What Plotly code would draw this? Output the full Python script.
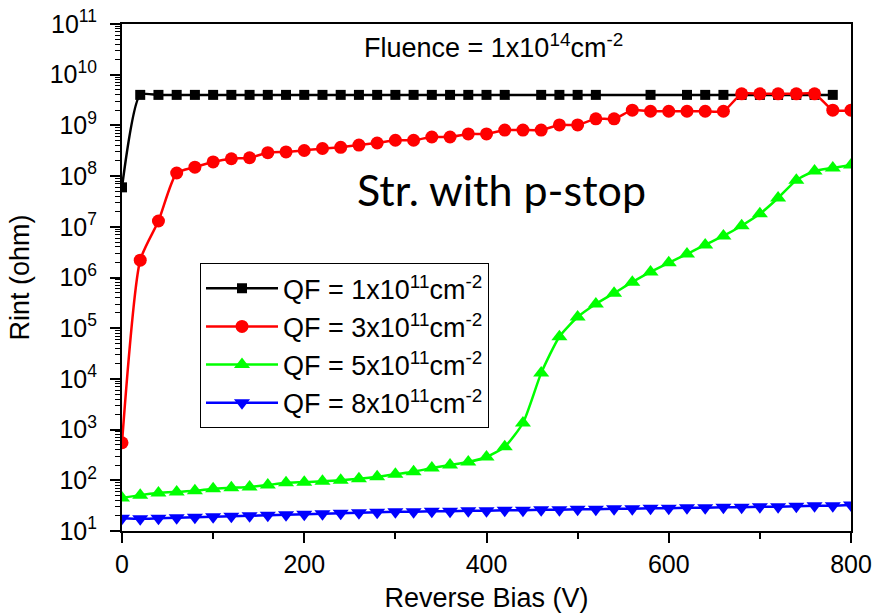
import plotly.graph_objects as go

# Reverse bias steps (V)
bias = [0, 20, 40, 60, 80, 100, 120, 140, 160, 180, 200, 220, 240, 260, 280,
        300, 320, 340, 360, 380, 400, 420, 440, 460, 480, 500, 520, 540, 560,
        580, 600, 620, 640, 660, 680, 700, 720, 740, 760, 780, 800]

# Interstrip resistance (ohm) for each oxide charge density
rint_qf1 = [6.0e7, 4.0e9, 4.0e9, 4.0e9, 4.0e9, 4.0e9, 4.0e9, 4.0e9, 4.0e9, 4.0e9,
            4.0e9, 4.0e9, 4.0e9, 4.0e9, 4.0e9, 4.0e9, 4.0e9, 4.0e9, 4.0e9, 4.0e9,
            4.0e9, 4.0e9, None, 4.0e9, 4.0e9, 4.0e9, 4.0e9, None, None, 4.0e9,
            None, 4.0e9, 4.0e9, 4.0e9, 4.0e9, 4.0e9, 4.0e9, 4.0e9, 4.0e9, 4.0e9,
            None]
rint_qf3 = [5.5e2, 2.2e6, 1.3e7, 1.15e8, 1.5e8, 1.9e8, 2.2e8, 2.3e8, 2.9e8, 3.0e8,
            3.2e8, 3.5e8, 3.7e8, 4.1e8, 4.5e8, 5.1e8, 5.1e8, 5.9e8, 5.9e8, 6.8e8,
            6.8e8, 8.1e8, 8.1e8, 8.1e8, 1.02e9, 1.02e9, 1.35e9, 1.35e9, 2.0e9, 1.9e9,
            1.9e9, 1.9e9, 1.9e9, 1.9e9, 4.2e9, 4.2e9, 4.2e9, 4.2e9, 4.2e9, 2.0e9,
            2.0e9]
rint_qf5 = [45, 51, 56, 59, 62, 68, 71, 74, 81, 89,
            92, 96, 100, 107, 117, 132, 148, 174, 200, 229,
            288, 457, 1.35e3, 1.3e4, 6.8e4, 1.66e5, 3.0e5, 4.9e5, 8.1e5, 1.29e6,
            1.95e6, 2.9e6, 4.4e6, 6.6e6, 1.05e7, 1.8e7, 3.7e7, 8.3e7, 1.26e8, 1.45e8,
            1.66e8]
rint_qf8 = [17.8, 17.4, 17.8, 18.2, 18.6, 19.1, 19.5, 20.0, 20.4, 20.9,
            21.4, 21.9, 22.4, 22.9, 23.4, 24.0, 24.0, 24.5, 24.5, 25.1,
            25.1, 25.7, 25.7, 26.3, 26.3, 26.9, 26.9, 27.5, 27.5, 28.2,
            28.2, 28.8, 28.8, 29.5, 29.5, 30.2, 30.2, 30.9, 31.6, 31.6,
            32.4]

series_names = ["QF = 1x10<sup>11</sup>cm<sup>-2</sup>",
                "QF = 3x10<sup>11</sup>cm<sup>-2</sup>",
                "QF = 5x10<sup>11</sup>cm<sup>-2</sup>",
                "QF = 8x10<sup>11</sup>cm<sup>-2</sup>"]
series_values = [rint_qf1, rint_qf3, rint_qf5, rint_qf8]
series_colors = ["#000000", "#FF0000", "#00FF00", "#0000FF"]
series_symbols = ["square", "circle", "triangle-up", "triangle-down"]
series_sizes = [10, 13, 14, 14]

y_exponents = [1, 2, 3, 4, 5, 6, 7, 8, 9, 10, 11]
y_tickvals = [10 ** e for e in y_exponents]
y_ticktext = ["10<sup>%d</sup>" % e for e in y_exponents]

FONT = "Arial, Liberation Sans, sans-serif"

fig = go.Figure()
for name, vals, col, sym, sz in zip(series_names, series_values, series_colors,
                                    series_symbols, series_sizes):
    fig.add_trace(go.Scatter(
        x=bias, y=vals, name=name, mode="lines+markers",
        connectgaps=True,
        line=dict(color=col, width=2.5, shape="spline", smoothing=0.6),
        marker=dict(color=col, symbol=sym, size=sz, line=dict(width=0)),
    ))

fig.update_layout(
    width=874, height=613,
    margin=dict(l=122, r=23, t=24, b=82, autoexpand=False),
    paper_bgcolor="white", plot_bgcolor="white",
    font=dict(family=FONT, color="black", size=22),
    showlegend=True,
    legend=dict(
        x=0.107, y=0.528, xanchor="left", yanchor="top",
        bgcolor="white", bordercolor="black", borderwidth=1,
        font=dict(family=FONT, size=27, color="black"),
        itemwidth=72, tracegroupgap=4,
    ),
    xaxis=dict(
        range=[0, 800], tickmode="linear", tick0=0, dtick=200,
        ticks="outside", ticklen=10, tickwidth=2, tickcolor="black",
        minor=dict(dtick=100, ticks="outside", ticklen=6, tickwidth=2,
                   tickcolor="black", showgrid=False),
        showline=True, linecolor="black", linewidth=2, mirror=True,
        showgrid=False, zeroline=False, automargin=False,
        tickfont=dict(family=FONT, size=25),
        title=dict(text="Reverse Bias (V)", font=dict(family=FONT, size=27),
                   standoff=18),
    ),
    yaxis=dict(
        type="log", range=[1, 11],
        tickmode="array", tickvals=y_tickvals, ticktext=y_ticktext,
        ticks="outside", ticklen=10, tickwidth=2, tickcolor="black",
        minor=dict(dtick="D1", ticks="outside", ticklen=5, tickwidth=1,
                   tickcolor="black", showgrid=False),
        showline=True, linecolor="black", linewidth=2, mirror=True,
        showgrid=False, zeroline=False, automargin=False,
        tickfont=dict(family=FONT, size=25),
        ticklabelstandoff=8,
        title=dict(text="Rint (ohm)", font=dict(family=FONT, size=27),
                   standoff=12),
    ),
    yaxis2=dict(
        type="log", range=[1, 11], overlaying="y", side="right", anchor="x",
        tickmode="array", tickvals=y_tickvals,
        ticks="inside", ticklen=10, tickwidth=2, tickcolor="black",
        showticklabels=False, showline=False, showgrid=False, zeroline=False,
        automargin=False,
    ),
)

fig.add_annotation(
    text="Fluence = 1x10<sup>14</sup>cm<sup>-2</sup>",
    xref="paper", yref="paper", x=0.51, y=0.957,
    xanchor="center", yanchor="middle", showarrow=False,
    font=dict(family=FONT, size=27, color="black"),
)
fig.add_annotation(
    text="Str. with p-stop",
    xref="paper", yref="paper", x=0.52, y=0.673,
    xanchor="center", yanchor="middle", showarrow=False,
    font=dict(family="Lato, Open Sans, sans-serif", size=43, color="black"),
)

fig.write_html("out.html")
